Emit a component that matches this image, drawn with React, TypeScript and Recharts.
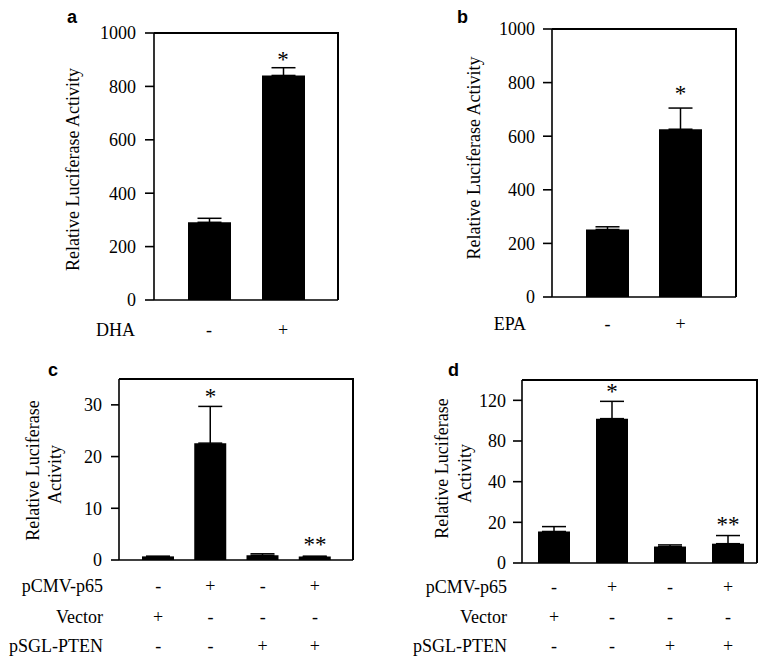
import React from 'react';
import { ComposedChart, Bar, XAxis, YAxis, ErrorBar, Scatter } from 'recharts';

const SERIF = '"Liberation Serif", "Times New Roman", serif';
const SANS = '"Liberation Sans", Arial, sans-serif';
const SW = 1.6;

// ---- Panel a (DHA) ----
const dhaCategories = ['-', '+'];
const dhaValues = [291, 841];
const dhaErrors = [15, 29];
const dhaSig = ['', '*'];

// ---- Panel b (EPA) ----
const epaCategories = ['-', '+'];
const epaValues = [252, 626];
const epaErrors = [10, 79];
const epaSig = ['', '*'];

const abTicks = [0, 200, 400, 600, 800, 1000];

// ---- Panels c / d (shared design) ----
const groups = ['g1', 'g2', 'g3', 'g4'];
const pcmvRow = ['-', '+', '-', '+'];
const vectorRow = ['+', '-', '-', '-'];
const ptenRow = ['-', '-', '+', '+'];
const cdRowLabels = ['pCMV-p65', 'Vector', 'pSGL-PTEN'];

const cValues = [0.7, 22.6, 0.9, 0.7];
const cErrors = [0, 7.1, 0.3, 0];
const cSig = ['', '*', '', '**'];
const cTicks = [0, 10, 20, 30];

const dValues = [15.5, 102, 8.1, 9.5];
const dErrors = [2.4, 17, 0.8, 4];
const dSig = ['', '*', '', '**'];
const dTicks = [0, 20, 40, 80, 120];
const dKnots = [0, 20, 40, 80, 120, 160];

function buildRows(names: string[], values: number[], errors: number[], sig: string[], signRows: string[][]) {
  return names.map((name, i) => ({
    name,
    value: values[i],
    err: [0, errors[i]],
    star: sig[i] ? values[i] + errors[i] : null,
    sig: sig[i],
    signs: signRows.map((r) => r[i]),
  }));
}

// Piecewise scale: equally spaced knots (axis of panel d)
function makeKnotScale(knots: number[]) {
  const unit = (v: number) => {
    const n = knots.length;
    if (v <= knots[0]) return (v - knots[0]) / (knots[1] - knots[0]);
    for (let i = 1; i < n; i++) {
      if (v <= knots[i]) return i - 1 + (v - knots[i - 1]) / (knots[i] - knots[i - 1]);
    }
    return n - 1 + (v - knots[n - 1]) / (knots[n - 1] - knots[n - 2]);
  };
  const fromUnit = (u: number) => {
    const n = knots.length;
    if (u <= 0) return knots[0] + u * (knots[1] - knots[0]);
    const i = Math.floor(u);
    if (i >= n - 1) return knots[n - 1] + (u - (n - 1)) * (knots[n - 1] - knots[n - 2]);
    return knots[i] + (u - i) * (knots[i + 1] - knots[i]);
  };
  const build = (dom: number[], rng: number[]) => {
    let d = dom.slice();
    let r = rng.slice();
    const s: any = (v: number) => {
      const u0 = unit(d[0]);
      const u1 = unit(d[d.length - 1]);
      return r[0] + ((unit(Number(v)) - u0) / (u1 - u0)) * (r[r.length - 1] - r[0]);
    };
    s.domain = (nd?: number[]) => {
      if (nd === undefined) return d.slice();
      d = nd.map(Number);
      return s;
    };
    s.range = (nr?: number[]) => {
      if (nr === undefined) return r.slice();
      r = nr.map(Number);
      return s;
    };
    s.copy = () => build(d, r);
    s.ticks = () => knots.filter((k) => k >= d[0] && k <= d[d.length - 1]);
    s.tickFormat = () => (v: number) => String(v);
    s.invert = (px: number) => {
      const u0 = unit(d[0]);
      const u1 = unit(d[d.length - 1]);
      const t = (px - r[0]) / (r[r.length - 1] - r[0]);
      return fromUnit(u0 + t * (u1 - u0));
    };
    s.clamp = () => s;
    s.nice = () => s;
    return s;
  };
  return build([0, 1], [0, 1]);
}

type PanelProps = {
  letter: string;
  letterX: number;
  letterY: number;
  left: number;
  top: number;
  width: number;
  height: number;
  marginTop: number;
  marginRight: number;
  yWidth: number;
  xHeight: number;
  data: any[];
  domain: number[];
  ticks: number[];
  scale?: any;
  barSize: number;
  padding: { left: number; right: number };
  tickSize: number;
  tickMargin: number;
  rowLabels: string[];
  rowOffsets: number[];
  rowLabelGap: number;
  yLabelLines: string[];
  yLabelXs: number[];
  yLabelDys: number[];
  starLift: number;
};

function plotBox(p: PanelProps) {
  return {
    left: p.left + p.yWidth,
    top: p.top + p.marginTop,
    right: p.left + p.width - p.marginRight,
    bottom: p.top + p.height - p.xHeight,
  };
}

function Panel(p: PanelProps) {
  const plotLeft = p.yWidth;
  const plotTop = p.marginTop;
  const plotBottom = p.height - p.xHeight;
  const plotMidY = (plotTop + plotBottom) / 2;
  const byName: Record<string, any> = {};
  p.data.forEach((d) => (byName[d.name] = d));

  const signTick = (tp: any) => {
    const row = byName[tp.payload.value];
    if (!row) return <g />;
    return (
      <g>
        {row.signs.map((s: string, i: number) => (
          <text
            key={i}
            x={tp.x}
            y={plotBottom + p.rowOffsets[i]}
            textAnchor="middle"
            fontFamily={SERIF}
            fontSize={18}
            fill="#000"
          >
            {s}
          </text>
        ))}
      </g>
    );
  };

  const rowLabelContent = () => (
    <g>
      {p.rowLabels.map((t, i) => (
        <text
          key={i}
          x={plotLeft - p.rowLabelGap}
          y={plotBottom + p.rowOffsets[i]}
          textAnchor="end"
          fontFamily={SERIF}
          fontSize={18}
          fill="#000"
        >
          {t}
        </text>
      ))}
    </g>
  );

  const yLabelContent = () => (
    <g>
      {p.yLabelLines.map((t, i) => {
        const x = plotLeft + p.yLabelXs[i];
        const y = plotMidY + p.yLabelDys[i];
        return (
          <text
            key={i}
            x={x}
            y={y}
            transform={`rotate(-90 ${x} ${y})`}
            textAnchor="middle"
            fontFamily={SERIF}
            fontSize={18}
            fill="#000"
          >
            {t}
          </text>
        );
      })}
    </g>
  );

  const starShape = (sp: any) => {
    const pl = sp.payload;
    if (!pl || !pl.sig || sp.cy == null || isNaN(sp.cy)) return <g />;
    const lift = p.starLift + (pl.sig.length > 1 ? 2 : 0);
    return (
      <text x={sp.cx} y={sp.cy - lift} textAnchor="middle" fontFamily={SERIF} fontSize={23} fill="#000">
        {pl.sig}
      </text>
    );
  };

  const yAxisExtra: any = p.scale ? { scale: p.scale } : {};

  return (
    <div style={{ position: 'absolute', left: p.left, top: p.top, width: p.width, height: p.height }}>
      <ComposedChart
        width={p.width}
        height={p.height}
        data={p.data}
        margin={{ top: p.marginTop, right: p.marginRight, left: 0, bottom: 0 }}
      >
        <XAxis
          dataKey="name"
          type="category"
          height={p.xHeight}
          padding={p.padding}
          interval={0}
          axisLine={{ stroke: '#000', strokeWidth: SW }}
          tickLine={false}
          tickSize={0}
          tickMargin={0}
          tick={signTick}
          label={{ content: rowLabelContent }}
        />
        <YAxis
          type="number"
          width={p.yWidth}
          domain={p.domain}
          ticks={p.ticks}
          interval={0}
          allowDataOverflow
          axisLine={{ stroke: '#000', strokeWidth: SW }}
          tickLine={{ stroke: '#000', strokeWidth: SW }}
          tickSize={p.tickSize}
          tickMargin={p.tickMargin}
          tick={{ fill: '#000', fontSize: 18, fontFamily: SERIF }}
          label={{ content: yLabelContent }}
          {...yAxisExtra}
        />
        <Bar dataKey="value" fill="#000" barSize={p.barSize} isAnimationActive={false}>
          <ErrorBar dataKey="err" width={12} stroke="#000" strokeWidth={1.5} direction="y" isAnimationActive={false} />
        </Bar>
        <Scatter dataKey="star" isAnimationActive={false} shape={starShape} />
      </ComposedChart>
    </div>
  );
}

const panels: PanelProps[] = [
  {
    letter: 'a', letterX: 67, letterY: 23,
    left: 0, top: 0, width: 380, height: 345,
    marginTop: 33, marginRight: 42, yWidth: 154, xHeight: 45,
    data: buildRows(['a1', 'a2'], dhaValues, dhaErrors, dhaSig, [dhaCategories]),
    domain: [0, 1000], ticks: abTicks,
    barSize: 43, padding: { left: 18, right: 18 },
    tickSize: 9, tickMargin: 9,
    rowLabels: ['DHA'], rowOffsets: [35.5], rowLabelGap: 19,
    yLabelLines: ['Relative Luciferase Activity'], yLabelXs: [-75], yLabelDys: [3],
    starLift: 1,
  },
  {
    letter: 'b', letterX: 457, letterY: 23,
    left: 380, top: 0, width: 385, height: 340,
    marginTop: 29, marginRight: 29, yWidth: 172, xHeight: 43,
    data: buildRows(['b1', 'b2'], epaValues, epaErrors, epaSig, [epaCategories]),
    domain: [0, 1000], ticks: abTicks,
    barSize: 43, padding: { left: 19, right: 19 },
    tickSize: 9, tickMargin: 8,
    rowLabels: ['EPA'], rowOffsets: [33], rowLabelGap: 26,
    yLabelLines: ['Relative Luciferase Activity'], yLabelXs: [-72], yLabelDys: [-5],
    starLift: 7,
  },
  {
    letter: 'c', letterX: 48, letterY: 376,
    left: 0, top: 340, width: 380, height: 325,
    marginTop: 39, marginRight: 27, yWidth: 119, xHeight: 105,
    data: buildRows(groups, cValues, cErrors, cSig, [pcmvRow, vectorRow, ptenRow]),
    domain: [0, 35], ticks: cTicks,
    barSize: 32, padding: { left: 13, right: 12 },
    tickSize: 8, tickMargin: 9,
    rowLabels: cdRowLabels, rowOffsets: [32, 62.5, 92], rowLabelGap: 16,
    yLabelLines: ['Relative Luciferase', 'Activity'], yLabelXs: [-80, -57.6], yLabelDys: [1, 5],
    starLift: 2,
  },
  {
    letter: 'd', letterX: 448, letterY: 376,
    left: 380, top: 340, width: 385, height: 325,
    marginTop: 40, marginRight: 8, yWidth: 142, xHeight: 102,
    data: buildRows(groups, dValues, dErrors, dSig, [pcmvRow, vectorRow, ptenRow]),
    domain: [0, 140], ticks: dTicks, scale: makeKnotScale(dKnots),
    barSize: 32, padding: { left: 3, right: 0 },
    tickSize: 9, tickMargin: 7,
    rowLabels: cdRowLabels, rowOffsets: [30, 60, 89.4], rowLabelGap: 15,
    yLabelLines: ['Relative Luciferase', 'Activity'], yLabelXs: [-74, -51], yLabelDys: [-3, 2],
    starLift: 2,
  },
];

export default function App() {
  return (
    <div style={{ position: 'absolute', left: 0, top: 0, width: 765, height: 665, background: '#fff' }}>
      {panels.map((p) => (
        <Panel key={p.letter} {...p} />
      ))}
      {/* top and right sides of each plot frame, drawn as thin filled bars */}
      <svg width={765} height={665} style={{ position: 'absolute', left: 0, top: 0, pointerEvents: 'none' }}>
        {panels.map((p) => {
          const b = plotBox(p);
          return (
            <g key={'frame-' + p.letter}>
              <rect x={b.left} y={b.top - 1} width={b.right - b.left + 1} height={2} fill="#000" />
              <rect x={b.right - 1} y={b.top - 1} width={2} height={b.bottom - b.top + 1} fill="#000" />
            </g>
          );
        })}
        {panels.map((p) => (
          <text key={p.letter} x={p.letterX} y={p.letterY} fontFamily={SANS} fontWeight="bold" fontSize={18} fill="#000">
            {p.letter}
          </text>
        ))}
      </svg>
    </div>
  );
}
